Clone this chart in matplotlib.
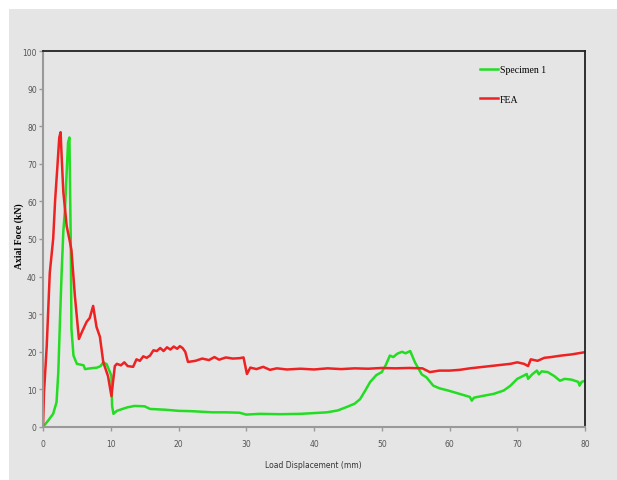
import matplotlib
matplotlib.use('Agg')
import matplotlib.pyplot as plt
from matplotlib.patches import Rectangle

# Specimen 1 (test) curve
spec_x = [0, 0.8, 1.5, 2.0, 2.26, 2.5, 2.75, 3.0, 3.25, 3.5, 3.7, 3.9, 4.0, 4.1, 4.2, 4.5,
          5.0, 6.0, 6.2, 7.0, 8.0, 8.5, 8.9, 9.4, 10.1, 10.2, 10.4, 10.9, 12.4, 13.5, 15.0,
          15.8, 18.0, 20.0, 22.0, 25.0, 27.0, 29.0, 30.0, 32.0, 35.0, 38.0, 40.0, 41.9, 43.5,
          44.8, 46.0, 46.8, 47.5, 48.3, 49.2, 50.0, 50.6, 51.2, 51.7, 52.3, 53.0, 53.5, 54.2,
          54.9, 55.9, 56.6, 57.6, 58.5, 60.0, 61.5, 63.0, 63.3, 63.6, 65.0, 66.5, 68.0, 69.0,
          70.0, 71.0, 71.4, 71.6, 72.2, 72.9, 73.2, 73.6, 74.5, 75.5, 76.3, 77.0, 78.0, 79.0,
          79.2, 79.5, 80.0]
spec_y = [0, 1.8, 3.5, 6.6, 14.6, 28, 41, 52, 58, 68, 75.7, 77, 62.5, 49, 26, 19,
          16.8, 16.4, 15.4, 15.6, 15.8, 16.2, 17.2, 16.7, 13.6, 5.6, 3.5, 4.3, 5.2, 5.6, 5.5,
          4.8, 4.6, 4.3, 4.2, 3.9, 3.9, 3.8, 3.3, 3.5, 3.4, 3.5, 3.7, 3.9, 4.4,
          5.3, 6.2, 7.4, 9.5, 12, 13.8, 14.6, 16.5, 19, 18.6, 19.5, 20, 19.6, 20.2,
          17.2, 14, 13.2, 11, 10.3, 9.6, 8.8, 8.0, 7.0, 7.8, 8.3, 8.8, 9.7, 11.0,
          12.8, 13.7, 14.1, 12.8, 14.0, 15.0, 14.0, 14.8, 14.6, 13.5, 12.3, 12.8, 12.6, 12.0,
          11.0, 12.0, 12.3]

# FEA curve
fea_x = [0, 0.15, 0.55, 1.0, 1.5, 1.8, 2.1, 2.4, 2.6, 2.75, 3.0, 3.5, 4.0, 4.2, 4.7, 5.3,
         5.8, 6.45, 6.9, 7.4, 7.9, 8.4, 8.9, 9.6, 10.1, 10.6, 10.9, 11.5, 12.0, 12.5, 13.3,
         13.8, 14.3, 14.8, 15.3, 15.8, 16.3, 16.8, 17.3, 17.8, 18.3, 18.8, 19.3, 19.8, 20.2,
         20.6, 21.0, 21.4, 22.5, 23.5, 24.5, 25.3, 26.0, 27.0, 28.0, 29.0, 29.6, 30.1, 30.6,
         31.5, 32.5, 33.5, 34.5, 36.0, 38.0, 40.0, 42.0, 44.0, 46.0, 48.0, 50.0, 52.0, 54.0,
         56.0, 57.1, 58.5, 60.0, 61.5, 63.0, 65.0, 67.0, 69.0, 70.0, 71.0, 71.6, 72.0, 73.0,
         74.0, 75.0, 76.5, 78.0, 79.0, 80.0]
fea_y = [0, 9.3, 21.5, 41, 50, 60.6, 68.6, 77, 78.4, 72, 62.5, 53.4, 49, 47, 35, 23.4,
         25.5, 28, 29, 32.2, 26.6, 24, 17.2, 13.5, 8.2, 16.2, 16.8, 16.4, 17.2, 16.2, 16,
         18.0, 17.6, 18.8, 18.4, 19.0, 20.4, 20.2, 21.0, 20.2, 21.2, 20.6, 21.4, 20.8, 21.5,
         21.0, 20.0, 17.3, 17.6, 18.2, 17.8, 18.6, 17.9, 18.5, 18.2, 18.3, 18.5, 14.1, 15.8,
         15.4, 16.0, 15.2, 15.6, 15.3, 15.5, 15.3, 15.6, 15.4, 15.6, 15.5, 15.7, 15.6, 15.7,
         15.6, 14.6, 15.0, 15.0, 15.2, 15.6, 16.0, 16.4, 16.8, 17.2, 16.8, 16.2, 18.0, 17.6,
         18.4, 18.6, 19.0, 19.3, 19.6, 19.9]

x_ticks = [0, 10, 20, 30, 40, 50, 60, 70, 80]
y_ticks = [0, 10, 20, 30, 40, 50, 60, 70, 80, 90, 100]

panel = '#e5e5e5'
fig = plt.figure(figsize=(6.17, 4.81), dpi=100)
fig.patch.set_facecolor('white')
fig.patches.append(Rectangle((9 / 617, 0), 1, (481 - 10) / 481, transform=fig.transFigure,
                             facecolor=panel, edgecolor='none', zorder=-10))

ax = fig.add_axes([43 / 617, (481 - 428) / 481, 542 / 617, 376 / 481])
ax.set_facecolor(panel)

ax.plot(spec_x, spec_y, color='#22dd22', lw=1.8, label='Specimen 1')
ax.plot(fea_x, fea_y, color='#ee2222', lw=1.8, label='FEA')

ax.set_xlim(0, 80)
ax.set_ylim(0, 100)
ax.set_xticks(x_ticks)
ax.set_yticks(y_ticks)
ax.tick_params(labelsize=5.5, labelcolor='#555555', color='#999999', length=3, width=1)
ax.tick_params(axis='x', pad=6)
ax.tick_params(axis='y', pad=1.5)

for s in ['top', 'right']:
    ax.spines[s].set_color('#222222')
    ax.spines[s].set_linewidth(1.3)
for s in ['left', 'bottom']:
    ax.spines[s].set_color('#999999')
    ax.spines[s].set_linewidth(1.5)

ax.set_xlabel('Load Displacement (mm)', fontsize=5.5, color='#333333')
ax.xaxis.set_label_coords(0.498, -0.088)
ax.set_ylabel('Axial Foce (kN)', fontsize=7, fontweight='bold', family='Liberation Serif')
ax.yaxis.set_label_coords(-0.035, 0.51)

leg = ax.legend(loc='upper left', bbox_to_anchor=(0.79, 0.985), frameon=False,
                prop={'family': 'Liberation Serif', 'size': 7}, handlelength=1.9,
                handletextpad=0.15, labelspacing=2.1)

plt.savefig('out.png', dpi=100)
